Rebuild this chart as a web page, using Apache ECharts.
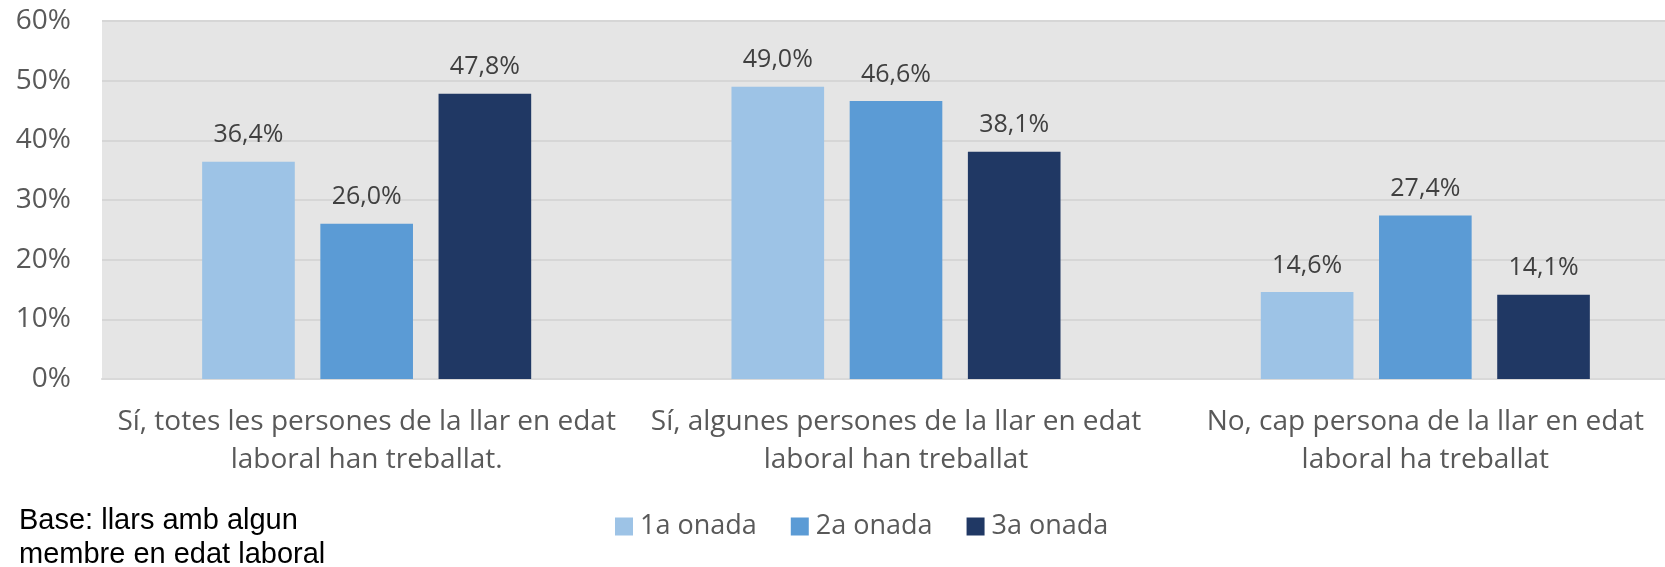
<!DOCTYPE html>
<html>
<head>
<meta charset="utf-8">
<script src="https://cdn.jsdelivr.net/npm/echarts@6/dist/echarts.min.js"></script>
<style>html,body{margin:0;padding:0;background:#fff}#c{width:1665px;height:567px}</style>
</head>
<body>
<div id="c"></div>
<script>
const categories = [
  "Sí, totes les persones de la llar en edat\nlaboral han treballat.",
  "Sí, algunes persones de la llar en edat\nlaboral han treballat",
  "No, cap persona de la llar en edat\nlaboral ha treballat"
];
const seriesNames = ["1a onada", "2a onada", "3a onada"];
const wave1 = [36.4, 49.0, 14.6];
const wave2 = [26.0, 46.6, 27.4];
const wave3 = [47.8, 38.1, 14.1];
const colors = ["#9DC3E6", "#5B9BD5", "#203864"];
const noteLines = ["Base: llars amb algun", "membre en edat laboral"];

const FONT = "Open Sans";
const chart = echarts.init(document.getElementById('c'), null, {renderer: 'canvas'});
const values = [wave1, wave2, wave3];
chart.setOption({
  animation: false,
  color: colors,
  textStyle: {fontFamily: FONT},
  grid: {left: 102, width: 1588, top: 21, height: 358, show: true, backgroundColor: '#E5E5E5', borderWidth: 0,
         containLabel: false, outerBoundsMode: 'none'},
  legend: {
    left: 610, top: 508, itemWidth: 18, itemHeight: 18, itemGap: 34,
    icon: 'rect',
    textStyle: {fontFamily: FONT, fontSize: 27, color: '#595959', padding: [0, 0, 0, 2]},
    data: seriesNames
  },
  xAxis: {
    type: 'category', data: categories,
    axisLine: {show: true, lineStyle: {color: '#D9D9D9', width: 2}},
    axisTick: {show: false},
    axisLabel: {fontFamily: FONT, fontSize: 28, color: '#595959', lineHeight: 38, margin: 24, interval: 0}
  },
  yAxis: {
    type: 'value', min: 0, max: 60, interval: 10,
    axisLabel: {formatter: '{value}%', fontFamily: FONT, fontSize: 28, color: '#595959', margin: 31},
    splitLine: {lineStyle: {color: '#D6D6D6', width: 2}},
    axisLine: {show: false}, axisTick: {show: false}
  },
  series: seriesNames.map((n, i) => ({
    name: n, type: 'bar', data: values[i],
    barWidth: '17.5%', barGap: '27.6%',
    itemStyle: {color: colors[i]},
    label: {
      show: true, position: 'top', distance: 14,
      fontFamily: FONT, fontSize: 25, color: '#404040',
      formatter: p => p.value.toFixed(1).replace('.', ',') + '%'
    }
  })),
  graphic: noteLines.map((t, i) => ({
    type: 'text', left: 19, top: 506 + i * 34,
    style: {text: t, fontFamily: 'Liberation Sans', fontSize: 29, fill: '#000'}
  }))
});
</script>
</body>
</html>
